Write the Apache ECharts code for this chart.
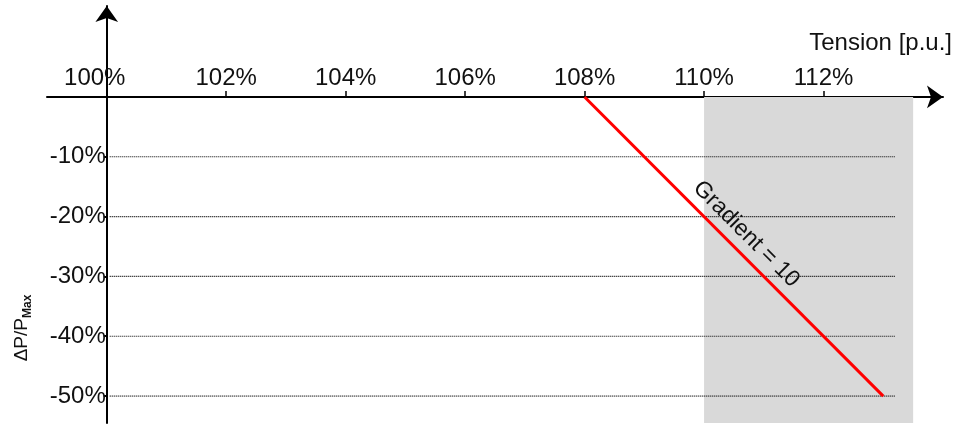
<!DOCTYPE html>
<html>
<head>
<meta charset="utf-8">
<script src="https://cdn.jsdelivr.net/npm/echarts@6/dist/echarts.min.js"></script>
<style>html,body{margin:0;padding:0;background:#fff}#c{width:957px;height:426px}</style>
</head>
<body>
<div id="c"></div>
<script>
// ---- data ----
const tensionTicks = [100, 102, 104, 106, 108, 110, 112];   // x tick labels [%]
const lossTicks = [-10, -20, -30, -40, -50];                 // y tick labels [%]
const curveTension = [108, 113];                             // red line x [%]
const curveLoss = [0, -50];                                  // red line y [%]
const bandTension = [110, 113.5];                            // grey zone x [%]
const gridTension = [100.05, 113.2];                         // dotted gridline span [%]
const Y_AXIS_AT = 100;                                       // y-axis crosses at 100 %

const chart = echarts.init(document.getElementById('c'), null, {renderer: 'canvas'});
const font = '"Liberation Sans", Arial, sans-serif';
const GRID = {left: 47, right: 14, top: 6, bottom: 3};

const series = [];
series.push({
  type: 'line', data: [], z: 1, silent: true, clip: false,
  markArea: {
    silent: true,
    itemStyle: {color: '#d9d9d9'},
    data: [[{coord: [bandTension[0], 0]}, {coord: [bandTension[1], -56]}]]
  }
});
lossTicks.forEach(v => {
  series.push({
    type: 'line', z: 2, silent: true, symbol: 'none',
    lineStyle: {color: '#000', width: 1.2, type: [1, 1]},
    data: [[gridTension[0], v], [gridTension[1], v]]
  });
});
series.push({
  type: 'line', z: 5, silent: true, symbol: 'none',
  lineStyle: {color: '#ff0000', width: 3},
  data: curveTension.map((t, i) => [t, curveLoss[i]]),
  markLine: {
    silent: true, symbol: 'none',
    lineStyle: {color: 'rgba(0,0,0,0)', width: 1, type: 'solid'},
    label: {show: true, position: 'middle', formatter: 'Gradient = 10', color: '#111',
            fontSize: 23, fontFamily: font, distance: 6},
    data: [[{coord: [curveTension[0], curveLoss[0]]}, {coord: [curveTension[1], curveLoss[1]]}]]
  }
});

function opts(xOff, yOff) {
  return {
    animation: false,
    backgroundColor: '#fff',
    grid: Object.assign({containLabel: false, outerBoundsMode: 'none'}, GRID),
    xAxis: {
      type: 'value', position: 'top', min: 99, max: 114, offset: xOff,
      axisLine: {show: true, onZero: false, symbol: ['none', 'arrow'], symbolSize: [17, 16],
                 lineStyle: {color: '#000', width: 2}},
      axisTick: {show: true, length: 6, customValues: tensionTicks,
                 lineStyle: {color: '#000', width: 1.5}},
      axisLabel: {show: true, customValues: tensionTicks, margin: 7,
                  color: '#111', fontSize: 24, fontFamily: font,
                  formatter: v => v === Y_AXIS_AT ? '{s|' + v + '%}' : v + '%',
                  rich: {s: {fontSize: 24, fontFamily: font, color: '#111', padding: [0, 24, 0, 0]}}},
      splitLine: {show: false}
    },
    yAxis: {
      type: 'value', min: -54.5, max: 15.2, offset: yOff,
      axisLine: {show: true, onZero: false, symbol: ['none', 'arrow'], symbolSize: [17, 16],
                 lineStyle: {color: '#000', width: 2}},
      axisTick: {show: true, length: 3, customValues: lossTicks, lineStyle: {color: '#000', width: 2}},
      axisLabel: {show: true, customValues: lossTicks, margin: 1, color: '#111', fontSize: 24,
                  fontFamily: font, formatter: v => v + '%'},
      splitLine: {show: false}
    },
    graphic: [
      {type: 'text', right: 5, top: 31, silent: true,
       style: {text: 'Tension [p.u.]', fill: '#111', font: '24px ' + font}},
      {type: 'text', x: 22, y: 328, rotation: Math.PI / 2, silent: true,
       style: {text: '{a|ΔP/P}{b|Max}', align: 'center', verticalAlign: 'middle',
               rich: {a: {fontSize: 19, fontFamily: font, fill: '#111', color: '#111', lineHeight: 24, verticalAlign: 'middle'},
                      b: {fontSize: 12, fontWeight: 'bold', fontFamily: font, fill: '#111', color: '#111', lineHeight: 24, verticalAlign: 'bottom'}}}}
    ],
    series: series
  };
}
chart.setOption(opts(0, 0));
// place the axes where they cross: x-axis at y = 0, y-axis at x = 100 %
const origin = chart.convertToPixel({gridIndex: 0}, [Y_AXIS_AT, 0]);
chart.setOption(opts(-(origin[1] - GRID.top), -(origin[0] - GRID.left)), true);
</script>
</body>
</html>
